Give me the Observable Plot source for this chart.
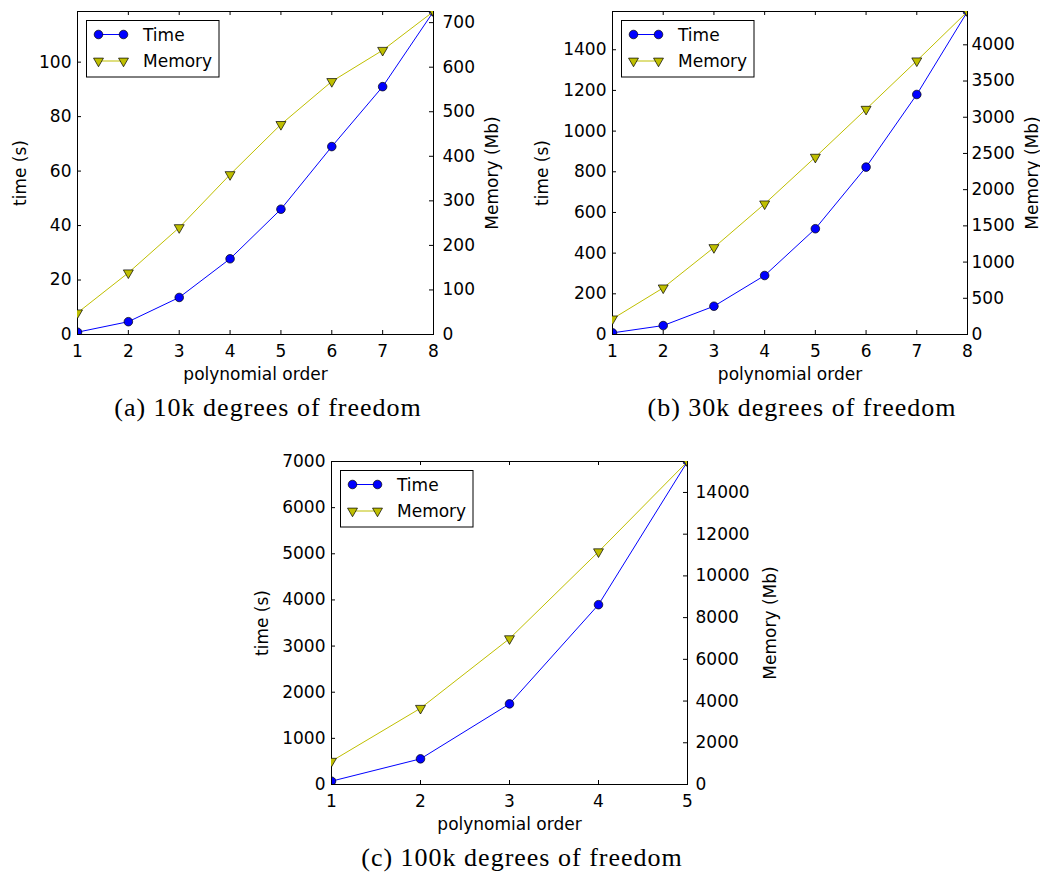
<!DOCTYPE html>
<html>
<head>
<meta charset="utf-8">
<script src="https://cdn.jsdelivr.net/npm/d3@7"></script>
<script src="https://cdn.jsdelivr.net/npm/@observablehq/plot@0.6"></script>
<style>
html, body { margin: 0; padding: 0; background: #fff; }
#root { position: relative; width: 1040px; height: 873px; overflow: hidden; background: #fff; }
.layer { position: absolute; }
</style>
</head>
<body>
<div id="root"></div>
<script>
// ---- data ----
const ordersAB = [1, 2, 3, 4, 5, 6, 7, 8];
const ordersC = [1, 2, 3, 4, 5];

const timeA = [0.85, 4.7, 13.6, 27.8, 46.0, 69.0, 91.0, 118.6];
const memA = [48.7, 138.5, 240, 359, 471.6, 568, 638, 725];

const timeB = [8, 44, 139, 290, 520, 823, 1180, 1588];
const memB = [216, 644, 1201, 1804, 2449, 3111, 3779, 4460];

const timeC = [72, 556, 1747, 3897, 7000];
const memC = [1117, 3655, 6992, 11159, 15484];

const timeTicksA = [0, 20, 40, 60, 80, 100];
const memTicksA = [0, 100, 200, 300, 400, 500, 600, 700];
const timeTicksB = [0, 200, 400, 600, 800, 1000, 1200, 1400];
const memTicksB = [0, 500, 1000, 1500, 2000, 2500, 3000, 3500, 4000];
const timeTicksC = [0, 1000, 2000, 3000, 4000, 5000, 6000, 7000];
const memTicksC = [0, 2000, 4000, 6000, 8000, 10000, 12000, 14000];

const seriesNames = ["Time", "Memory"];
const xLabel = "polynomial order";
const timeLabel = "time (s)";
const memLabel = "Memory (Mb)";
const captions = ["(a) 10k degrees of freedom", "(b) 30k degrees of freedom", "(c) 100k degrees of freedom"];

// ---- layout ----
const BLUE = "#0000ff";
const OLIVE = "#bfbf00";
const FONT = "DejaVu Sans";

const panels = [
  {left: 0, top: 0, width: 520, height: 420, mL: 77, mR: 87, mT: 11, mB: 86,
   orders: ordersAB, time: timeA, mem: memA, tTicks: timeTicksA, mTicks: memTicksA,
   caption: captions[0], capX: 268, capY: 416, tOff: 64, mOff: 64, mPad: 9},
  {left: 520, top: 0, width: 520, height: 420, mL: 92, mR: 73, mT: 11, mB: 86,
   orders: ordersAB, time: timeB, mem: memB, tTicks: timeTicksB, mTicks: memTicksB,
   caption: captions[1], capX: 802, capY: 416, tOff: 77, mOff: 70, mPad: 4},
  {left: 240, top: 440, width: 520, height: 420, mL: 91, mR: 73, mT: 21, mB: 76,
   orders: ordersC, time: timeC, mem: memC, tTicks: timeTicksC, mTicks: memTicksC,
   caption: captions[2], capX: 522, capY: 866, tOff: 76, mOff: 88, mPad: 8}
];

const root = document.getElementById("root");

function place(node, left, top) {
  node.classList.add("layer");
  node.style.left = left + "px";
  node.style.top = top + "px";
  root.appendChild(node);
}

for (const p of panels) {
  const pw = p.width - p.mL - p.mR;
  const ph = p.height - p.mT - p.mB;
  const xMax = d3.max(p.orders);
  const tData = p.orders.map((o, i) => ({order: o, value: p.time[i]}));
  const mData = p.orders.map((o, i) => ({order: o, value: p.mem[i]}));
  const common = {
    width: p.width, height: p.height,
    marginLeft: p.mL, marginRight: p.mR, marginTop: p.mT, marginBottom: p.mB,
    style: {fontFamily: FONT, fontSize: "17px", color: "black", background: "transparent", overflow: "visible"}
  };

  const timePlot = Plot.plot({
    ...common,
    x: {domain: [1, xMax]},
    y: {domain: [0, d3.max(p.time)]},
    marks: [
      Plot.tickX(p.orders, {x: d => d, insetTop: ph - 4, stroke: "black"}),
      Plot.tickX(p.orders, {x: d => d, insetBottom: ph - 4, stroke: "black"}),
      Plot.tickY(p.tTicks, {y: d => d, insetRight: pw - 4, stroke: "black"}),
      Plot.axisX(p.orders, {tickSize: 0, tickPadding: 10, tickFormat: d => String(d),
        label: xLabel, labelAnchor: "center", labelArrow: "none", labelOffset: 45}),
      Plot.axisY(p.tTicks, {tickSize: 0, tickPadding: 6, tickFormat: d => String(d),
        label: timeLabel, labelAnchor: "center", labelArrow: "none", labelOffset: p.tOff}),
      Plot.line(tData, {x: "order", y: "value", stroke: BLUE, strokeWidth: 1, clip: true}),
      Plot.dot(tData, {x: "order", y: "value", r: 4.3, fill: BLUE, stroke: "black", strokeWidth: 0.7, clip: true}),
      Plot.frame({stroke: "black", strokeWidth: 1})
    ]
  });
  place(timePlot, p.left, p.top);

  const memPlot = Plot.plot({
    ...common,
    x: {domain: [1, xMax], axis: null},
    y: {domain: [0, d3.max(p.mem)]},
    marks: [
      Plot.tickY(p.mTicks, {y: d => d, insetLeft: pw - 4, stroke: "black"}),
      Plot.axisY(p.mTicks, {anchor: "right", tickSize: 0, tickPadding: p.mPad, tickFormat: d => String(d),
        label: memLabel, labelAnchor: "center", labelArrow: "none", labelOffset: p.mOff}),
      Plot.line(mData, {x: "order", y: "value", stroke: OLIVE, strokeWidth: 1, clip: true}),
      Plot.dot(mData, {x: "order", y: "value", symbol: "triangle", rotate: 180, r: 3.7, fill: OLIVE, stroke: "black", strokeWidth: 0.7, clip: true})
    ]
  });
  place(memPlot, p.left, p.top);

  // legend
  const lw = 134, lh = 58;
  const leg = d3.create("svg").attr("width", lw).attr("height", lh)
    .style("font-family", FONT).style("font-size", "17px");
  leg.append("rect").attr("x", 0.5).attr("y", 0.5).attr("width", lw - 1.5).attr("height", lh - 1.5)
    .attr("fill", "white").attr("stroke", "black").attr("stroke-width", 1);
  const rows = [
    {name: seriesNames[0], color: BLUE, y: 14.5, sym: "circle"},
    {name: seriesNames[1], color: OLIVE, y: 41, sym: "tri"}
  ];
  for (const r of rows) {
    leg.append("line").attr("x1", 12.5).attr("x2", 37.5).attr("y1", r.y).attr("y2", r.y)
      .attr("stroke", r.color).attr("stroke-width", 1);
    for (const mx of [12.5, 37.5]) {
      if (r.sym === "circle") {
        leg.append("circle").attr("cx", mx).attr("cy", r.y).attr("r", 4.3)
          .attr("fill", r.color).attr("stroke", "black").attr("stroke-width", 0.7);
      } else {
        leg.append("path").attr("d", d3.symbol(d3.symbolTriangle, Math.PI * 3.7 * 3.7)())
          .attr("transform", `translate(${mx},${r.y}) rotate(180)`)
          .attr("fill", r.color).attr("stroke", "black").attr("stroke-width", 0.7);
      }
    }
    leg.append("text").attr("x", 57).attr("y", r.y + 6.2).text(r.name);
  }
  place(leg.node(), p.left + p.mL + 9, p.top + p.mT + 8.5);
}

// captions
const cap = d3.create("svg").attr("width", 1040).attr("height", 873)
  .style("pointer-events", "none");
for (const p of panels) {
  cap.append("text").attr("x", p.capX).attr("y", p.capY)
    .attr("text-anchor", "middle")
    .style("font-family", "Liberation Serif").style("font-size", "26px").style("letter-spacing", "1px")
    .text(p.caption);
}
place(cap.node(), 0, 0);
</script>
</body>
</html>
